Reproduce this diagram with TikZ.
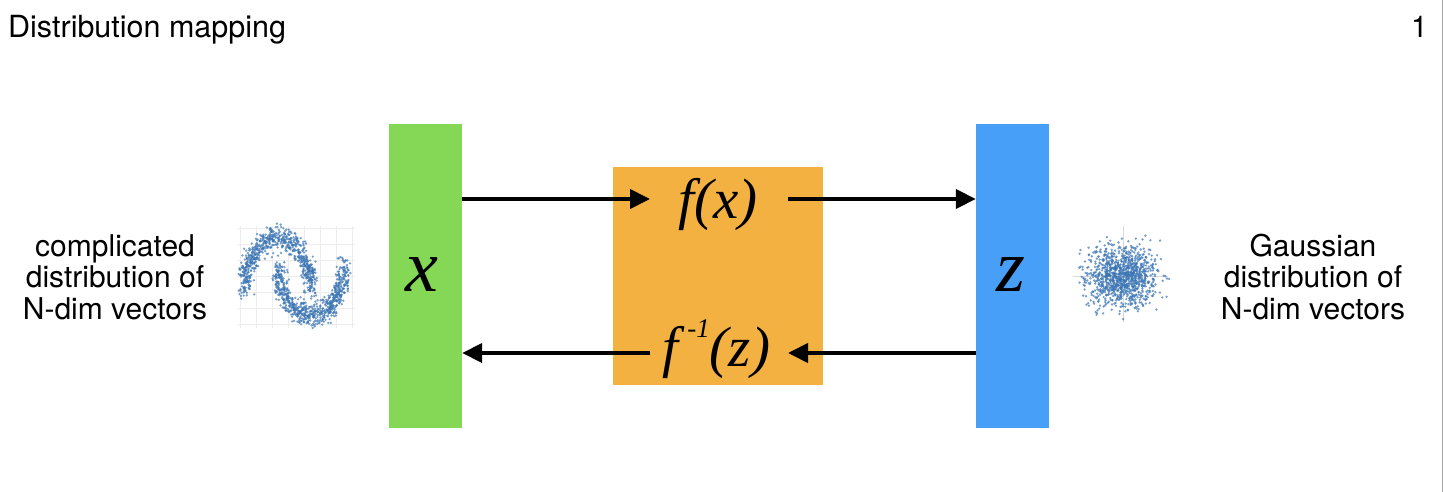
\documentclass[tikz,border=0pt]{standalone}
\usepackage{fontspec}
\setmainfont{TeX Gyre Heros}
\newfontfamily\tms{Liberation Serif}[ItalicFont={Liberation Serif Italic}]
\usetikzlibrary{arrows.meta}
\definecolor{xgreen}{HTML}{84D856}
\definecolor{forange}{HTML}{F2B141}
\definecolor{zblue}{HTML}{479FF8}
\definecolor{dotblue}{HTML}{3C76B4}
\begin{document}
\begin{tikzpicture}[x=1pt,y=-1pt,
  bar/.style={draw=none,minimum width=73pt,minimum height=304pt,inner sep=0pt},
  arr/.style={line width=4pt,-{Triangle[length=20pt,width=19pt]}},
  lbl/.style={align=center,font=\fontsize{30}{31.5}\selectfont,inner sep=0pt},
  mth/.style={font=\tms\itshape\fontsize{57}{62}\selectfont,inner sep=0pt},
  big/.style={font=\tms\itshape\fontsize{74}{80}\selectfont,inner sep=0pt},
  dot/.style={fill=dotblue,fill opacity=0.7},
  faint/.style={draw=black!7,line width=0.6pt}]
\useasboundingbox (0,0) rectangle (1444,492);
\fill[white] (0,0) rectangle (1444,492);
\draw[black!35,line width=1pt] (1442.5,0) -- (1442.5,492);
% title and page number
\node[anchor=base west,inner sep=0pt,font=\fontsize{30.5}{34}\selectfont] (title) at (8,38) {Distribution mapping};
\node[anchor=base east,inner sep=0pt,font=\fontsize{30}{34}\selectfont] (page) at (1428,38) {1};
% boxes
\node[bar,fill=xgreen] (xbox) at (425.5,276) {};
\node[draw=none,fill=forange,minimum width=210pt,minimum height=218pt,inner sep=0pt] (fbox) at (718,276) {};
\node[bar,fill=zblue] (zbox) at (1012.5,276) {};
\node[big] (xl) at (422,275) {x};
\node[big] (zl) at (1011,275) {z};
% function labels
\node[mth] (fx) at (718,205) {f(x)};
\node[mth] (finv) at (716,349) {f\,\raisebox{0.5em}{\fontsize{27}{28}\selectfont -1}(z)};
\coordinate (fxin) at (650,199);
\coordinate (fxout) at (788,199);
\coordinate (fiin) at (788,353);
\coordinate (fiout) at (650,353);
\draw[arr] (xbox.east|-fxin) -- (fxin);
\draw[arr] (fxout) -- (zbox.west|-fxout);
\draw[arr] (zbox.west|-fiin) -- (fiin);
\draw[arr] (fiout) -- (xbox.east|-fiout);
% side labels
\node[lbl] (left) at (115,277) {complicated\\distribution of\\N-dim vectors};
\node[lbl] (right) at (1313,277) {Gaussian\\distribution of\\N-dim vectors};
% two-moons scatter
\foreach \gx in {240,256,...,352} \draw[faint] (\gx,226) -- (\gx,328);
\foreach \gy in {228,244,...,326} \draw[faint] (237,\gy) -- (355,\gy);
\pgfmathsetseed{4711}
\foreach \i in {1,...,700}{
  \pgfmathsetmacro\t{180*rnd}
  \pgfmathsetmacro\px{278+33*(cos(\t)+0.11*(rand+rand+rand))}
  \pgfmathsetmacro\py{290-52*(sin(\t)+0.11*(rand+rand+rand))}
  \fill[dot] (\px,\py) circle (1.3pt);
  \pgfmathsetmacro\t{180*rnd}
  \pgfmathsetmacro\px{278+33*(1-cos(\t)+0.11*(rand+rand+rand))}
  \pgfmathsetmacro\py{290-52*(0.5-sin(\t)+0.11*(rand+rand+rand))}
  \fill[dot] (\px,\py) circle (1.3pt);
}
% gaussian scatter
\draw[black!15,line width=0.8pt] (1123,226) -- (1123,322);
\draw[black!15,line width=0.8pt] (1073,276) -- (1168,276);
\foreach \i in {1,...,1100}{
  \pgfmathsetmacro\px{1121+17*(rand+rand+rand)}
  \pgfmathsetmacro\py{276+15*(rand+rand+rand)}
  \fill[dot] (\px,\py) circle (1.3pt);
}
\end{tikzpicture}
\end{document}
